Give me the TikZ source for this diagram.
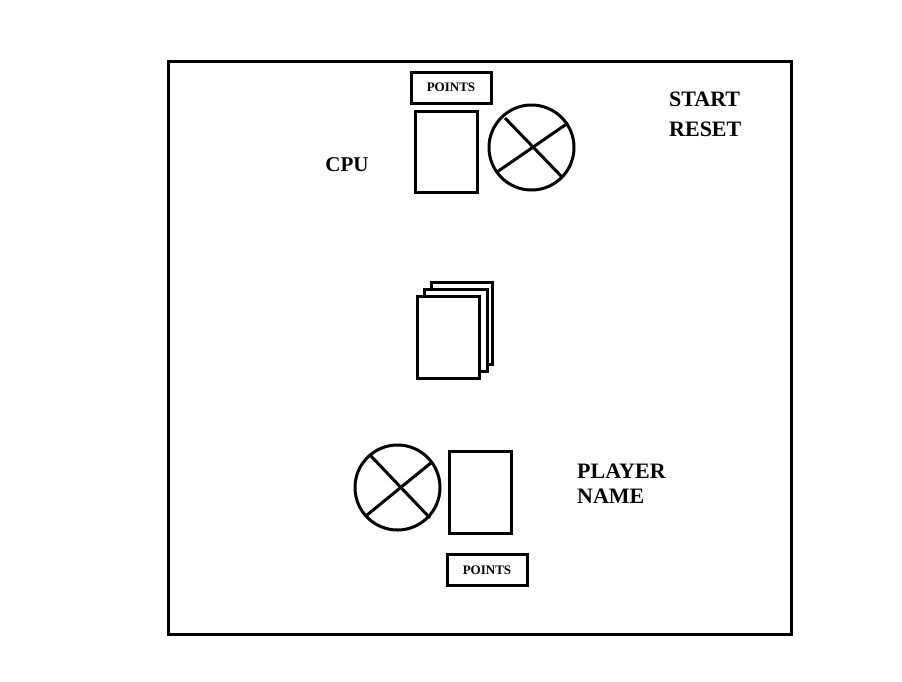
\documentclass[tikz,border=0pt]{standalone}
\usepackage{fontspec}
\setmainfont{Liberation Serif}
\begin{document}
\begin{tikzpicture}[x=1pt,y=-1pt,
  ln/.style={line width=3pt},
  card/.style={ln, fill=white},
  lbl/.style={font=\bfseries\fontsize{21}{21}\selectfont, inner sep=0pt},
  ptsbox/.style={ln, minimum width=80pt, minimum height=31pt, font=\bfseries\fontsize{13}{13}\selectfont, inner sep=0pt}]
\useasboundingbox (0,0) rectangle (902,681);
\node[fill=white, draw=none, minimum width=902pt, minimum height=681pt] (bg) at (451,340.5) {};
\draw[ln] (168,61) rectangle (791,634);
% top
\node[ptsbox, draw] (ptop) at (451,87.5) {POINTS};
\draw[card] (415,111) rectangle (477,192);
\node[ln, draw, circle, minimum size=85pt, inner sep=0pt] (ctop) at (531.5,147.5) {};
\draw[ln] (505,118) -- (562,177);
\draw[ln] (568,123) -- (497,172);
\node[lbl, anchor=base] (cpu) at (347,171) {CPU};
\node[lbl, anchor=base west, font=\bfseries\fontsize{22}{22}\selectfont] (start) at (669,106) {START};
\node[lbl, anchor=base west, font=\bfseries\fontsize{22}{22}\selectfont] (reset) at (669,136) {RESET};
% deck
\draw[card] (431,282) rectangle (492,364);
\draw[card] (424,289) rectangle (487,371);
\draw[card] (417,296) rectangle (479,378);
% bottom
\node[ln, draw, circle, minimum size=85pt, inner sep=0pt] (cbot) at (397.5,487.5) {};
\draw[ln] (370,455) -- (430,518);
\draw[ln] (432,462) -- (367,515);
\draw[card] (449,451) rectangle (511,533);
\node[ptsbox, draw] (pbot) at (487,570) {POINTS};
\node[lbl, anchor=base west, font=\bfseries\fontsize{22}{22}\selectfont] (player) at (577,478) {PLAYER};
\node[lbl, anchor=base west, font=\bfseries\fontsize{22}{22}\selectfont] (pname) at (577,503) {NAME};
\end{tikzpicture}
\end{document}
